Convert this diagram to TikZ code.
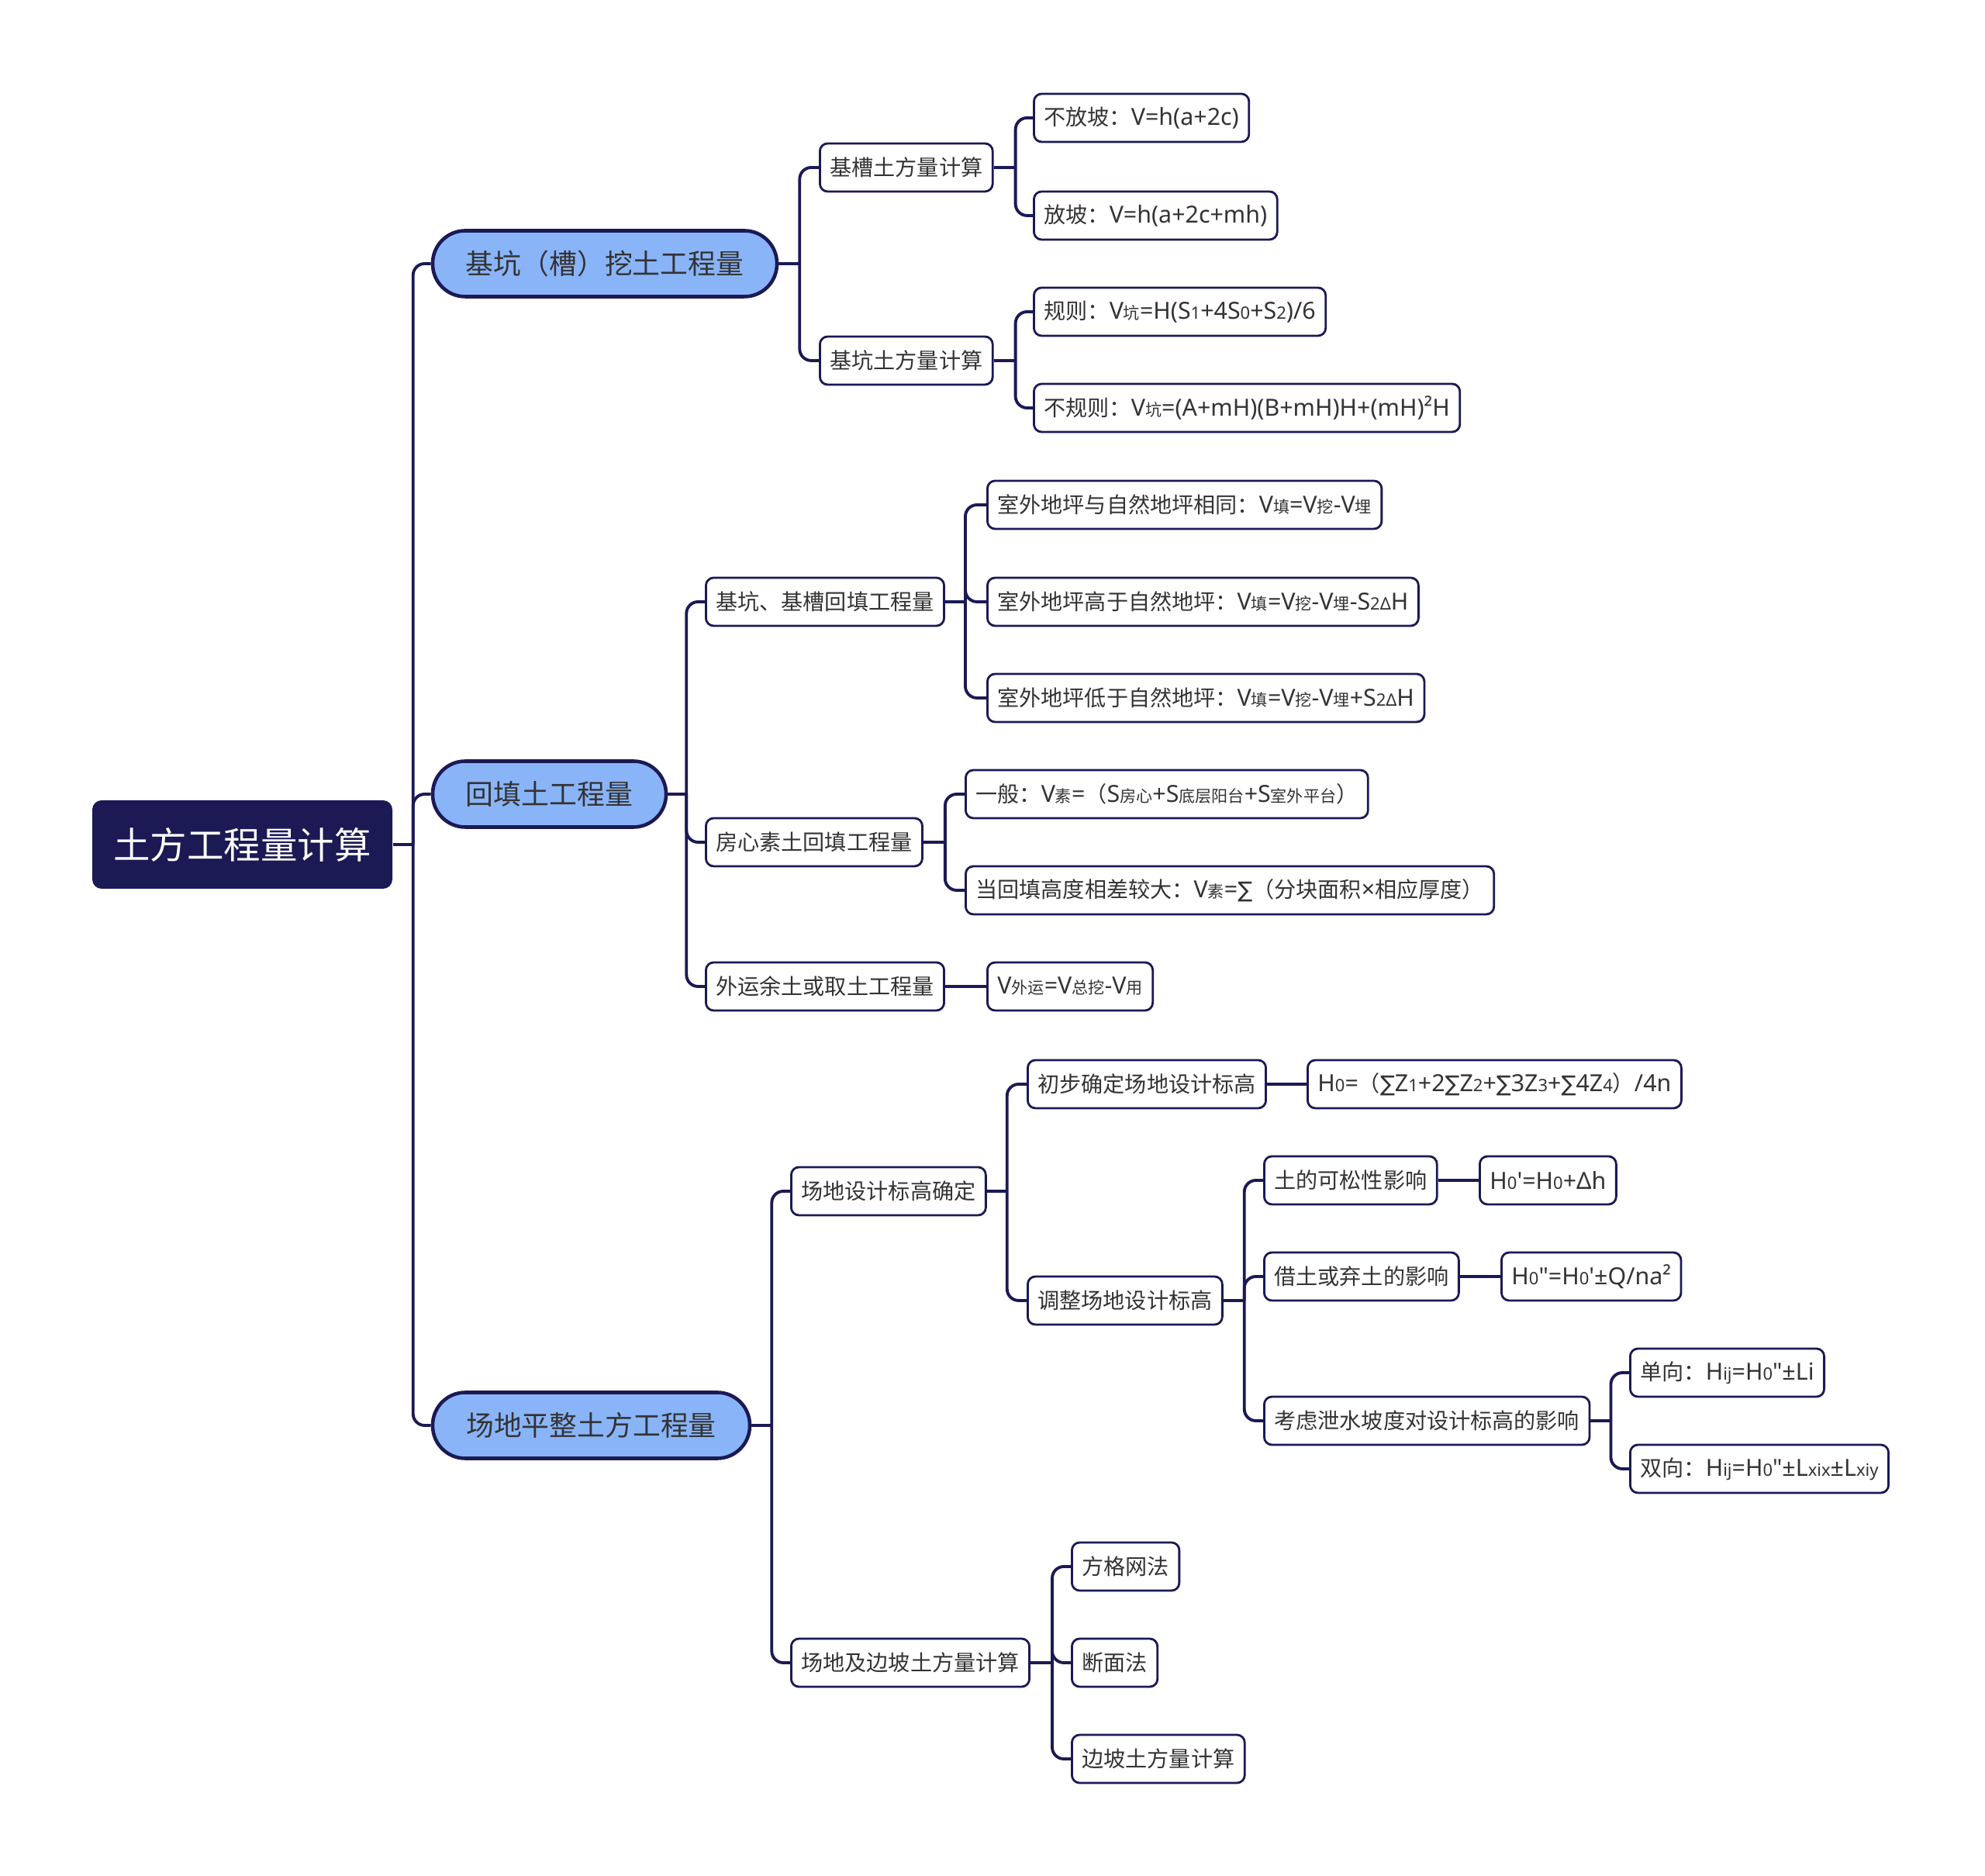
\documentclass[tikz,border=0pt]{standalone}
\usepackage{fontspec}
\setmainfont{Noto Sans CJK SC}
\newfontfamily\cjkf{Noto Sans CJK SC}
\newfontfamily\latf{Noto Sans}[Scale=1.08]
\newfontfamily\symf{DejaVu Sans}

\definecolor{navy}{HTML}{1B1A55}
\definecolor{skyfill}{HTML}{8AB4F8}
\definecolor{txtgray}{HTML}{333333}

% 公式: 拉丁字体; 下标: 拉丁 / 中文
\newcommand\fm[1]{{\latf #1}}
\newcommand\sbs[1]{{\fontsize{5.8}{6}\selectfont #1}}
\newcommand\sbc[1]{{\cjkf\fontsize{6}{6}\selectfont #1}}
\newcommand\smm{{\symf ∑}}

\tikzset{
  rootbox/.style={fill=navy, rounded corners=0.12cm, text=white,
    font=\cjkf\fontsize{13.5}{16}\selectfont, minimum width=3.87cm, minimum height=1.14cm},
  topicbox/.style={draw=navy, line width=1.3pt, fill=skyfill, rounded corners=0.42cm,
    minimum height=0.85cm, text=txtgray, font=\cjkf\fontsize{10.2}{12}\selectfont},
  leafbox/.style={draw=navy, line width=0.8pt, fill=white, rounded corners=0.1cm,
    minimum height=0.62cm, inner xsep=0.13cm, anchor=west, text=txtgray,
    font=\cjkf\fontsize{8}{10}\selectfont},
  branch/.style={draw=navy, line width=1.1pt, rounded corners=0.15cm},
}

\begin{document}
\begin{tikzpicture}

\useasboundingbox (0,0) rectangle (25.6,24.19);

%%% 中心
\node[rootbox] (root) at (3.125,13.30) {土方工程量计算};

%% 一级
\node[topicbox, minimum width=4.44cm] (wt) at (7.80,20.79) {基坑（槽）挖土工程量};
\node[topicbox, minimum width=3.01cm] (ht) at (7.085,13.95) {回填土工程量};
\node[topicbox, minimum width=4.09cm] (pz) at (7.625,5.81) {场地平整土方工程量};

%% 二级
\node[leafbox] (wt1) at (10.56,22.03) {基槽土方量计算};
\node[leafbox] (wt2) at (10.56,19.54) {基坑土方量计算};
\node[leafbox] (ht1) at (9.09,16.43) {基坑、基槽回填工程量};
\node[leafbox] (ht2) at (9.09,13.33) {房心素土回填工程量};
\node[leafbox] (ht3) at (9.09,11.47) {外运余土或取土工程量};
\node[leafbox] (pz1) at (10.19,8.83) {场地设计标高确定};
\node[leafbox] (pz2) at (10.19,2.75) {场地及边坡土方量计算};

%% 三级
\node[leafbox] (wt1a) at (13.32,22.67) {不放坡：\fm{V=h(a+2c)}};
\node[leafbox] (wt1b) at (13.32,21.41) {放坡：\fm{V=h(a+2c+mh)}};
\node[leafbox] (wt2a) at (13.32,20.17) {规则：\fm{V\sbc{坑}=H(S\sbs{1}+4S\sbs{0}+S\sbs{2})/6}};
\node[leafbox] (wt2b) at (13.32,18.93) {不规则：\fm{V\sbc{坑}=(A+mH)(B+mH)H+(mH)²H}};

\node[leafbox] (ht1a) at (12.72,17.68) {室外地坪与自然地坪相同：\fm{V\sbc{填}=V\sbc{挖}-V\sbc{埋}}};
\node[leafbox] (ht1b) at (12.72,16.43) {室外地坪高于自然地坪：\fm{V\sbc{填}=V\sbc{挖}-V\sbc{埋}-S\sbs{2Δ}H}};
\node[leafbox] (ht1c) at (12.72,15.19) {室外地坪低于自然地坪：\fm{V\sbc{填}=V\sbc{挖}-V\sbc{埋}+S\sbs{2Δ}H}};
\node[leafbox] (ht2a) at (12.44,13.95) {一般：\fm{V\sbc{素}=}（\fm{S\sbc{房心}+S\sbc{底层阳台}+S\sbc{室外平台}}）};
\node[leafbox] (ht2b) at (12.44,12.71) {当回填高度相差较大：\fm{V\sbc{素}=\smm}（分块面积\fm{×}相应厚度）};
\node[leafbox] (ht3a) at (12.72,11.47) {\fm{V\sbc{外运}=V\sbc{总挖}-V\sbc{用}}};

\node[leafbox] (pz1a) at (13.24,10.21) {初步确定场地设计标高};
\node[leafbox] (pz1b) at (13.24,7.42) {调整场地设计标高};
\node[leafbox] (pz2a) at (13.81,3.99) {方格网法};
\node[leafbox] (pz2b) at (13.81,2.75) {断面法};
\node[leafbox] (pz2c) at (13.81,1.51) {边坡土方量计算};

%% 四级
\node[leafbox] (pz1a1) at (16.85,10.21) {\fm{H\sbs{0}=}（\fm{\smm Z\sbs{1}+2\smm Z\sbs{2}+\smm 3Z\sbs{3}+\smm 4Z\sbs{4}}）\fm{/4n}};
\node[leafbox] (pz1b1) at (16.29,8.97) {土的可松性影响};
\node[leafbox] (pz1b2) at (16.29,7.73) {借土或弃土的影响};
\node[leafbox] (pz1b3) at (16.29,5.87) {考虑泄水坡度对设计标高的影响};

%% 五级
\node[leafbox] (pz1b1x) at (19.07,8.97) {\fm{H\sbs{0}'=H\sbs{0}+Δh}};
\node[leafbox] (pz1b2x) at (19.35,7.73) {\fm{H\sbs{0}"=H\sbs{0}'±Q/na²}};
\node[leafbox] (pz1b3a) at (21.01,6.49) {单向：\fm{H\sbs{ij}=H\sbs{0}"±Li}};
\node[leafbox] (pz1b3b) at (21.01,5.25) {双向：\fm{H\sbs{ij}=H\sbs{0}"±L\sbs{xix}±L\sbs{xiy}}};

%% 分叉点
\path (root.east) ++(0.26,0) coordinate (jroot);
\path (wt.east) ++(0.27,0) coordinate (jwt);
\path (ht.east) ++(0.24,0) coordinate (jht);
\path (pz.east) ++(0.26,0) coordinate (jpz);
\path (wt1.east) ++(0.28,0) coordinate (jwt1);
\path (wt2.east) ++(0.28,0) coordinate (jwt2);
\path (ht1.east) ++(0.26,0) coordinate (jht1);
\path (ht2.east) ++(0.28,0) coordinate (jht2);
\path (pz1.east) ++(0.26,0) coordinate (jpz1);
\path (pz2.east) ++(0.28,0) coordinate (jpz2);
\path (pz1b.east) ++(0.27,0) coordinate (jpz1b);
\path (pz1b3.east) ++(0.26,0) coordinate (jpz1b3);

%% 连线
\draw[branch] (root.east) -- (jroot);
\draw[branch] (jroot) |- (wt.west);
\draw[branch] (jroot) |- (ht.west);
\draw[branch] (jroot) |- (pz.west);

\draw[branch] (wt.east) -- (jwt);
\draw[branch] (jwt) |- (wt1.west);
\draw[branch] (jwt) |- (wt2.west);
\draw[branch] (wt1.east) -- (jwt1);
\draw[branch] (jwt1) |- (wt1a.west);
\draw[branch] (jwt1) |- (wt1b.west);
\draw[branch] (wt2.east) -- (jwt2);
\draw[branch] (jwt2) |- (wt2a.west);
\draw[branch] (jwt2) |- (wt2b.west);

\draw[branch] (ht.east) -- (jht);
\draw[branch] (jht) |- (ht1.west);
\draw[branch] (jht) |- (ht2.west);
\draw[branch] (jht) |- (ht3.west);
\draw[branch] (ht1.east) -- (jht1);
\draw[branch] (jht1) |- (ht1a.west);
\draw[branch] (jht1) |- (ht1b.west);
\draw[branch] (jht1) |- (ht1c.west);
\draw[branch] (ht2.east) -- (jht2);
\draw[branch] (jht2) |- (ht2a.west);
\draw[branch] (jht2) |- (ht2b.west);
\draw[branch] (ht3.east) -- (ht3a.west);

\draw[branch] (pz.east) -- (jpz);
\draw[branch] (jpz) |- (pz1.west);
\draw[branch] (jpz) |- (pz2.west);
\draw[branch] (pz1.east) -- (jpz1);
\draw[branch] (jpz1) |- (pz1a.west);
\draw[branch] (jpz1) |- (pz1b.west);
\draw[branch] (pz1a.east) -- (pz1a1.west);
\draw[branch] (pz1b.east) -- (jpz1b);
\draw[branch] (jpz1b) |- (pz1b1.west);
\draw[branch] (jpz1b) |- (pz1b2.west);
\draw[branch] (jpz1b) |- (pz1b3.west);
\draw[branch] (pz1b1.east) -- (pz1b1x.west);
\draw[branch] (pz1b2.east) -- (pz1b2x.west);
\draw[branch] (pz1b3.east) -- (jpz1b3);
\draw[branch] (jpz1b3) |- (pz1b3a.west);
\draw[branch] (jpz1b3) |- (pz1b3b.west);
\draw[branch] (pz2.east) -- (jpz2);
\draw[branch] (jpz2) |- (pz2a.west);
\draw[branch] (jpz2) |- (pz2b.west);
\draw[branch] (jpz2) |- (pz2c.west);

\end{tikzpicture}
\end{document}
